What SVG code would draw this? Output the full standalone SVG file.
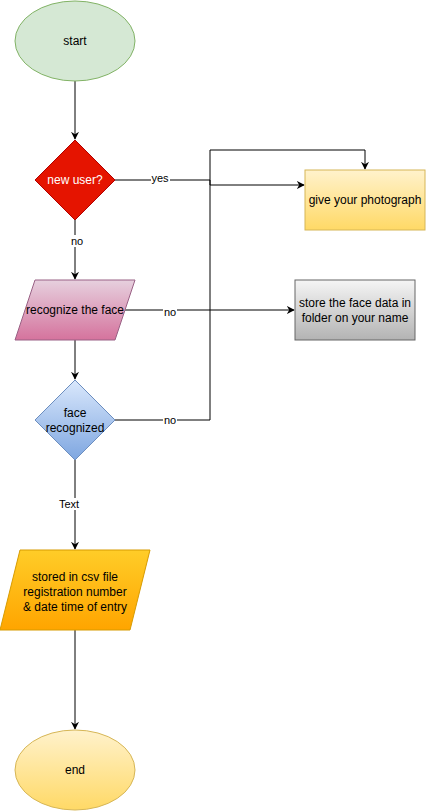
<svg xmlns="http://www.w3.org/2000/svg" width="426" height="811" viewBox="0 0 426 811">
<style>
text{font-family:"Liberation Sans",Arial,sans-serif;font-size:12px;text-anchor:middle;dominant-baseline:central;fill:#000}
.lbl{font-size:11px}
.edge{fill:none;stroke:#000;stroke-width:1}
.bg{fill:#fff}
</style>
<defs>
<marker id="arr" viewBox="0 0 10 10" refX="9" refY="5" markerWidth="8" markerHeight="8" orient="auto" markerUnits="userSpaceOnUse">
<path d="M0,0 L10,5 L0,10 L3,5 Z" fill="#000"/>
</marker>
<linearGradient id="gYel" x1="0" y1="0" x2="0" y2="1"><stop offset="0" stop-color="#fff2cc"/><stop offset="1" stop-color="#ffd966"/></linearGradient>
<linearGradient id="gPink" x1="0" y1="0" x2="0" y2="1"><stop offset="0" stop-color="#e6d0de"/><stop offset="1" stop-color="#d5739d"/></linearGradient>
<linearGradient id="gGray" x1="0" y1="0" x2="0" y2="1"><stop offset="0" stop-color="#f5f5f5"/><stop offset="1" stop-color="#b3b3b3"/></linearGradient>
<linearGradient id="gBlue" x1="0" y1="0" x2="0" y2="1"><stop offset="0" stop-color="#dae8fc"/><stop offset="1" stop-color="#7ea6e0"/></linearGradient>
<linearGradient id="gOrange" x1="0" y1="0" x2="0" y2="1"><stop offset="0" stop-color="#ffcd28"/><stop offset="1" stop-color="#ffa500"/></linearGradient>
</defs>

<g id="connectors">
<path class="edge" d="M75,81 L75,139" marker-end="url(#arr)"/>
<path class="edge" d="M115,180 L210,180 L210,185 L304,185" marker-end="url(#arr)"/>
<path class="edge" d="M75,220 L75,279" marker-end="url(#arr)"/>
<path class="edge" d="M125,310 L294,310" marker-end="url(#arr)"/>
<path class="edge" d="M75,340 L75,379" marker-end="url(#arr)"/>
<path class="edge" d="M115,420 L210,420 L210,150 L365,150 L365,169" marker-end="url(#arr)"/>
<path class="edge" d="M75,460 L75,549" marker-end="url(#arr)"/>
<path class="edge" d="M75,630 L75,729" marker-end="url(#arr)"/>
<rect class="bg" x="151" y="172" width="19" height="12"/>
<text class="lbl" x="160" y="178">yes</text>
<rect class="bg" x="70" y="235" width="14" height="12"/>
<text class="lbl" x="77" y="241">no</text>
<rect class="bg" x="163" y="306" width="14" height="12"/>
<text class="lbl" x="170" y="312">no</text>
<rect class="bg" x="163" y="414" width="14" height="12"/>
<text class="lbl" x="170" y="420">no</text>
<rect class="bg" x="59" y="498" width="22" height="12"/>
<text class="lbl" x="69" y="504">Text</text>
</g>

<g id="start">
<ellipse cx="75" cy="41" rx="60" ry="40" fill="#d5e8d4" stroke="#82b366"/>
<text x="75" y="41">start</text>
</g>

<g id="new-user">
<path d="M75,140 L115,180 L75,220 L35,180 Z" fill="#e51400" stroke="#b20000"/>
<text x="75" y="180" style="fill:#fff">new user?</text>
</g>

<g id="give-photo">
<rect x="305" y="170" width="120" height="60" fill="url(#gYel)" stroke="#d6b656"/>
<text x="365" y="200">give your photograph</text>
</g>

<g id="recognize">
<path d="M35,280 L135,280 L115,340 L15,340 Z" fill="url(#gPink)" stroke="#996185"/>
<text x="75" y="310">recognize the face</text>
</g>

<g id="store-face">
<rect x="295" y="280" width="120" height="60" fill="url(#gGray)" stroke="#666666"/>
<text x="355" y="303">store the face data in</text>
<text x="355" y="318">folder on your name</text>
</g>

<g id="face-recognized">
<path d="M75,380 L115,420 L75,460 L35,420 Z" fill="url(#gBlue)" stroke="#6c8ebf"/>
<text x="75" y="413">face</text>
<text x="75" y="428">recognized</text>
</g>

<g id="stored-csv">
<path d="M20,550 L150,550 L130,630 L0,630 Z" fill="url(#gOrange)" stroke="#d79b00"/>
<text x="75" y="577">stored in csv file</text>
<text x="75" y="592">registration number</text>
<text x="75" y="607"> &amp; date time of entry</text>
</g>

<g id="end">
<ellipse cx="75" cy="770" rx="60" ry="40" fill="url(#gYel)" stroke="#d6b656"/>
<text x="75" y="770">end</text>
</g>
</svg>
